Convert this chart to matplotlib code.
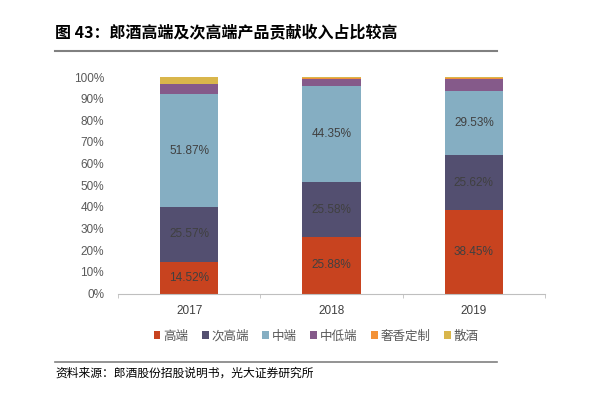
import matplotlib
matplotlib.use("Agg")
import matplotlib.pyplot as plt
import numpy as np
from matplotlib.patches import Patch

plt.rcParams['font.family'] = ['Noto Sans CJK SC', 'DejaVu Sans']

years = ['2017', '2018', '2019']
series = ['高端', '次高端', '中端', '中低端', '奢香定制', '散酒']
gaoduan = [14.52, 25.88, 38.45]
cigaoduan = [25.57, 25.58, 25.62]
zhongduan = [51.87, 44.35, 29.53]
zhongdiduan = [4.6, 3.3, 5.3]
shexiang = [0.05, 0.2, 0.8]
sanjiu = [3.4, 0.7, 0.3]
labelled = [True, True, True, False, False, False]

colors = ['#C8431F', '#534F70', '#85AEC2', '#855A8A', '#F39237', '#D9B64B']
values = [gaoduan, cigaoduan, zhongduan, zhongdiduan, shexiang, sanjiu]

fig = plt.figure(figsize=(5.92, 4.0), dpi=100)
ax = fig.add_axes([118/592, 1 - 293.5/400, 427/592, (293.5 - 77)/400])

x = np.arange(len(years))
bottom = np.zeros(len(years))
for name, vals, c, lab in zip(series, values, colors, labelled):
    v = np.array(vals) / 100.0
    ax.bar(x, v, width=0.41, bottom=bottom, color=c, label=name, linewidth=0)
    if lab:
        for xi, b, h in zip(x, bottom, v):
            ax.text(xi, b + h / 2, '%.2f%%' % (h * 100), ha='center', va='center',
                    fontsize=8.5, color='#404040', family='Liberation Sans')
    bottom += v

ax.set_xlim(-0.5, 2.5)
ax.set_ylim(0, 1.0)
ax.set_yticks(np.arange(0, 1.01, 0.1))
ax.set_yticklabels(['%d%%' % (t * 10) for t in range(11)], family='Liberation Sans',
                   fontsize=8.5, color='#595959')
ax.tick_params(axis='y', length=0, pad=10)
ax.set_xticks(x)
ax.set_xticklabels(years, family='Liberation Sans', fontsize=8.5, color='#404040')
ax.tick_params(axis='x', which='major', length=0, pad=8)
ax.set_xticks([-0.5, 0.5, 1.5, 2.5], minor=True)
ax.tick_params(axis='x', which='minor', length=3, color='#BFBFBF', direction='out')
for s in ['top', 'right', 'left']:
    ax.spines[s].set_visible(False)
ax.spines['bottom'].set_color('#BFBFBF')

handles = [Patch(facecolor=c, edgecolor='none') for c in colors]
fig.legend(handles, series, loc='center', bbox_to_anchor=(316/592, 1 - 336/400), ncol=6,
           frameon=False, fontsize=9, handlelength=0.55, handleheight=0.55,
           handletextpad=0.2, columnspacing=1.1, labelcolor='#595959')

fig.text(55/592, 1 - 32/400, '图 43：郎酒高端及次高端产品贡献收入占比较高', fontsize=11.5,
         fontweight='bold', ha='left', va='center', color='#000000')
fig.add_artist(plt.Line2D([55/592, 497/592], [1 - 50.5/400, 1 - 50.5/400], color='#808080', lw=1.5))
fig.add_artist(plt.Line2D([55/592, 497/592], [1 - 362/400, 1 - 362/400], color='#808080', lw=1.2))
fig.text(55/592, 1 - 373/400, '资料来源：郎酒股份招股说明书，光大证券研究所', fontsize=8.5,
         ha='left', va='center', color='#000000')

fig.savefig('out.png', dpi=100)
